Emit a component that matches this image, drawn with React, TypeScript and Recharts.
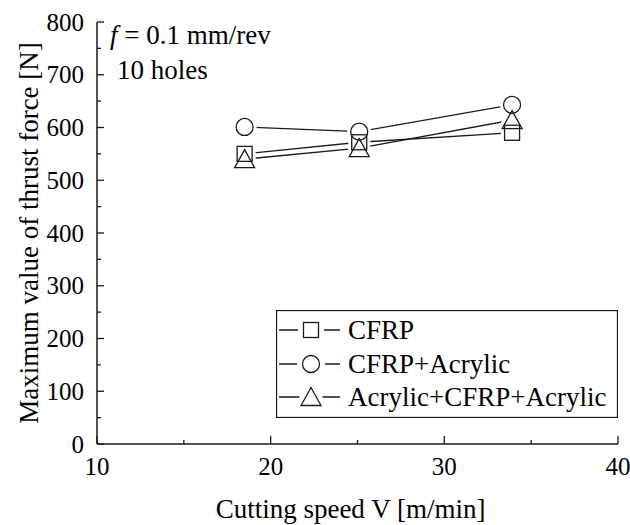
import React from "react";
import { LineChart, Line, XAxis, YAxis, Legend } from "recharts";

const speeds = [18.5, 25.1, 33.9];
const cfrp = [550, 572, 590];
const cfrpAcrylic = [601, 592, 643];
const sandwich = [540, 561, 614];

const xTicks = [10, 15, 20, 25, 30, 35, 40];
const yTicks = [0, 50, 100, 150, 200, 250, 300, 350, 400, 450, 500, 550, 600, 650, 700, 750, 800];

type Shape = "square" | "circle" | "triangle";

const series: { key: string; name: string; shape: Shape }[] = [
  { key: "cfrp", name: "CFRP", shape: "square" },
  { key: "cfrpAcrylic", name: "CFRP+Acrylic", shape: "circle" },
  { key: "sandwich", name: "Acrylic+CFRP+Acrylic", shape: "triangle" },
];

const data = speeds.map((v, i) => ({
  v,
  cfrp: cfrp[i],
  cfrpAcrylic: cfrpAcrylic[i],
  sandwich: sandwich[i],
}));

const FONT = "Liberation Serif, Tinos, DejaVu Serif, serif";
const INK = "#1a1a1a";

function Marker({ shape, cx, cy, halo = 0 }: { shape: Shape; cx: number; cy: number; halo?: number }) {
  const style = halo
    ? { fill: "#fff", stroke: "#fff", strokeWidth: halo }
    : { fill: "none", stroke: INK, strokeWidth: 1.3 };
  if (shape === "square") return <rect x={cx - 7.5} y={cy - 7.5} width={15} height={15} {...style} />;
  if (shape === "circle") return <circle cx={cx} cy={cy} r={8.5} {...style} />;
  return (
    <polygon
      points={`${cx},${cy - 9.5} ${cx - 10},${cy + 8.5} ${cx + 10},${cy + 8.5}`}
      strokeLinejoin="miter"
      {...style}
    />
  );
}

function YTick({ x, y, payload }: any) {
  const v = payload.value;
  const major = v % 100 === 0;
  return (
    <g>
      <line x1={x} x2={x + (major ? 7 : 4)} y1={y} y2={y} stroke={INK} strokeWidth={1.3} />
      {major && (
        <text x={x - 13} y={y} textAnchor="end" dominantBaseline="central" style={{ fontFamily: FONT }} fontSize={25} fill="#000">
          {v}
        </text>
      )}
    </g>
  );
}

function XTick({ x, y, payload }: any) {
  const v = payload.value;
  const major = v % 10 === 0;
  return (
    <g>
      <line x1={x} x2={x} y1={y} y2={y - (major ? 8 : 4)} stroke={INK} strokeWidth={1.3} />
      {major && (
        <text x={x} y={y + 22} textAnchor="middle" dominantBaseline="central" style={{ fontFamily: FONT }} fontSize={25} fill="#000">
          {v}
        </text>
      )}
    </g>
  );
}

function LegendBox() {
  const rows = [20, 54, 87];
  return (
    <svg width={342} height={108} style={{ display: "block" }}>
      <rect x={0.5} y={0.5} width={341} height={107} fill="#fff" stroke={INK} strokeWidth={1.3} />
      {series.map((s, i) => (
        <g key={s.key}>
          <line x1={3} x2={64} y1={rows[i]} y2={rows[i]} stroke={INK} strokeWidth={1.3} />
          <Marker shape={s.shape} cx={35} cy={rows[i]} halo={11} />
          <Marker shape={s.shape} cx={35} cy={rows[i]} />
          <text x={72} y={rows[i]} dominantBaseline="central" style={{ fontFamily: FONT }} fontSize={27} fill="#000">
            {s.name}
          </text>
        </g>
      ))}
    </svg>
  );
}

export default function App() {
  return (
    <div style={{ position: "absolute", left: 0, top: 0, width: 630, height: 525, background: "#fff", fontFamily: FONT }}>
      <LineChart width={630} height={525} data={data} margin={{ top: 22, right: 12, bottom: 0, left: 0 }}>
        <XAxis
          dataKey="v"
          type="number"
          domain={[10, 40]}
          ticks={xTicks}
          interval={0}
          height={81}
          tickSize={0}
          tickMargin={0}
          tickLine={false}
          tick={<XTick />}
          axisLine={{ stroke: INK, strokeWidth: 1.5 }}
          label={{
            value: "Cutting speed V [m/min]",
            position: "center",
            dx: -7,
            dy: 24,
            style: { fontFamily: FONT, fontSize: 27, fill: "#000" },
          }}
        />
        <YAxis
          type="number"
          domain={[0, 800]}
          ticks={yTicks}
          interval={0}
          width={97}
          tickSize={0}
          tickMargin={0}
          tickLine={false}
          tick={<YTick />}
          axisLine={{ stroke: INK, strokeWidth: 1.5 }}
          label={{
            value: "Maximum value of thrust force [N]",
            angle: -90,
            position: "center",
            dx: -20,
            style: { fontFamily: FONT, fontSize: 27, fill: "#000", textAnchor: "middle" },
          }}
        />
        <Legend
          layout="vertical"
          align="center"
          verticalAlign="middle"
          content={() => <LegendBox />}
          wrapperStyle={{ left: 276, top: 310, width: 342, height: 108 }}
        />
        {series.map((s) => (
          <Line
            key={`line-${s.key}`}
            dataKey={s.key}
            type="linear"
            stroke={INK}
            strokeWidth={1.3}
            dot={false}
            activeDot={false}
            isAnimationActive={false}
          />
        ))}
        {series.map((s) => (
          <Line
            key={`halo-${s.key}`}
            dataKey={s.key}
            type="linear"
            stroke="none"
            legendType="none"
            activeDot={false}
            dot={(p: any) => <Marker key={`h-${s.key}-${p.index}`} shape={s.shape} cx={p.cx} cy={p.cy} halo={7} />}
            isAnimationActive={false}
          />
        ))}
        {series.map((s) => (
          <Line
            key={`mark-${s.key}`}
            dataKey={s.key}
            type="linear"
            stroke="none"
            legendType="none"
            activeDot={false}
            dot={(p: any) => <Marker key={`m-${s.key}-${p.index}`} shape={s.shape} cx={p.cx} cy={p.cy} />}
            isAnimationActive={false}
          />
        ))}
      </LineChart>
      <svg width={630} height={525} style={{ position: "absolute", left: 0, top: 0, pointerEvents: "none" }}>
        <text x={110} y={35} dominantBaseline="central" style={{ fontFamily: FONT }} fontSize={27} fill="#000">
          <tspan fontStyle="italic">f</tspan>
          <tspan> = 0.1 mm/rev</tspan>
        </text>
        <text x={117} y={70} dominantBaseline="central" style={{ fontFamily: FONT }} fontSize={27} fill="#000">
          10 holes
        </text>
      </svg>
    </div>
  );
}
